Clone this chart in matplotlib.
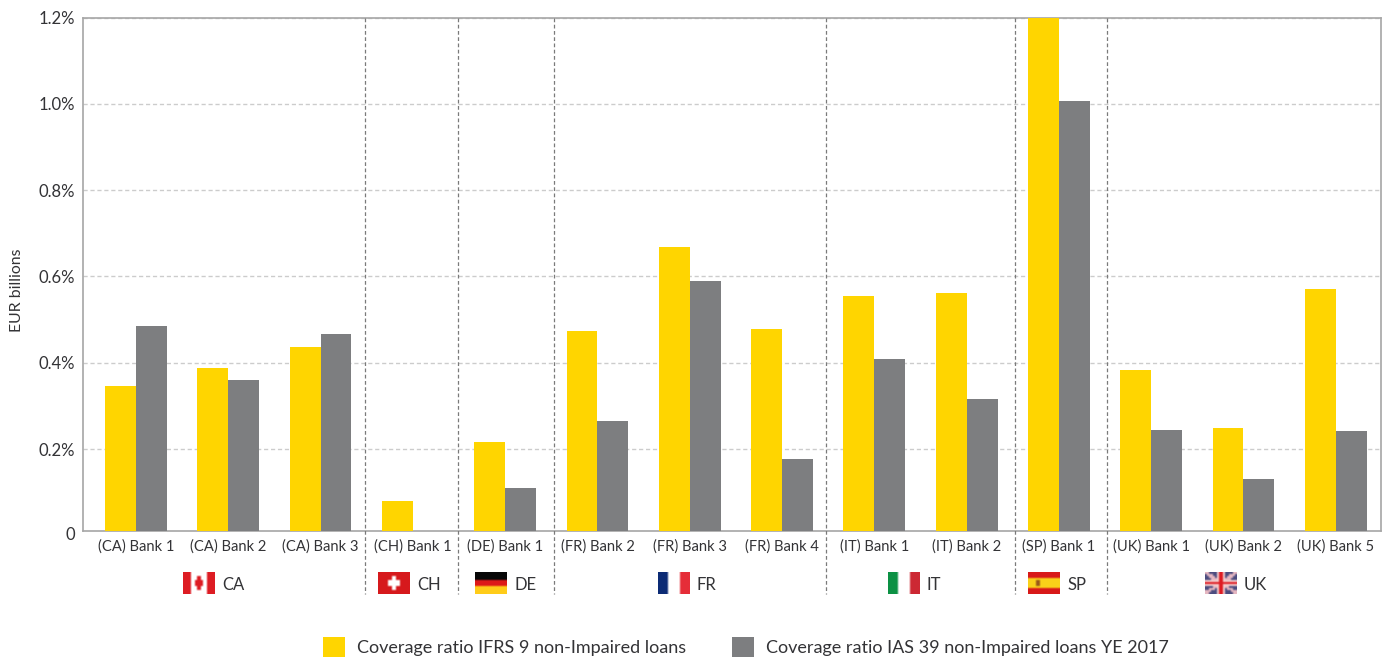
import numpy as np
import matplotlib
matplotlib.use("Agg")
import matplotlib.pyplot as plt

plt.rcParams['font.family'] = ['Lato', 'DejaVu Sans']

# values (percent)
banks = ["(CA) Bank 1", "(CA) Bank 2", "(CA) Bank 3", "(CH) Bank 1", "(DE) Bank 1",
         "(FR) Bank 2", "(FR) Bank 3", "(FR) Bank 4", "(IT) Bank 1", "(IT) Bank 2",
         "(SP) Bank 1", "(UK) Bank 1", "(UK) Bank 2", "(UK) Bank 5"]
ifrs9 = [0.346, 0.387, 0.436, 0.080, 0.216, 0.473, 0.668, 0.478, 0.554, 0.561,
         1.200, 0.383, 0.249, 0.570]
ias39 = [0.485, 0.360, 0.466, 0.005, 0.110, 0.265, 0.589, 0.177, 0.408, 0.316,
         1.007, 0.244, 0.131, 0.242]
separators = [2.48, 3.49, 4.53, 7.48, 9.52, 10.52]
countries = ["CA", "CH", "DE", "FR", "IT", "SP", "UK"]
flag_left_px = [183, 378, 475, 658, 888, 1028, 1205]
y_ticks = [0.2, 0.4, 0.6, 0.8, 1.0, 1.2]

W, H = 1392, 657
YELLOW = "#FFD500"
GREY = "#7D7E80"
TEXT = "#333336"


def px_box(x0, y0, x1, y1):
    # pixel box (top-left origin) to figure fractions
    return [x0 / W, 1 - y1 / H, (x1 - x0) / W, (y1 - y0) / H]


def flag_image(code):
    h, w = 11, 16
    img = np.ones((h, w, 3))
    red = (0.87, 0.11, 0.14)
    if code == "CA":
        img[:, :4] = red
        img[:, 12:] = red
        img[2:9, 7:9] = red
        img[4:7, 6:10] = red
    elif code == "CH":
        img[:] = (0.84, 0.10, 0.11)
        img[4:7, 5:11] = 1
        img[2:9, 7:9] = 1
    elif code == "DE":
        img[:4] = (0.03, 0.03, 0.03)
        img[4:7] = (0.87, 0.10, 0.10)
        img[7:] = (1.0, 0.80, 0.10)
    elif code == "FR":
        img[:, :5] = (0.05, 0.17, 0.46)
        img[:, 11:] = (0.90, 0.18, 0.22)
    elif code == "IT":
        img[:, :5] = (0.05, 0.57, 0.27)
        img[:, 11:] = (0.80, 0.16, 0.20)
    elif code == "SP":
        img[:] = (0.98, 0.82, 0.10)
        img[:3] = (0.85, 0.10, 0.10)
        img[8:] = (0.85, 0.10, 0.10)
        img[4:7, 4:6] = (0.60, 0.35, 0.10)
    elif code == "UK":
        img[:] = (0.30, 0.30, 0.50)
        for i in range(h):
            j = int(round(i * (w - 1) / (h - 1)))
            for k in (j - 1, j, j + 1):
                if 0 <= k < w:
                    img[i, k] = (0.90, 0.72, 0.76)
                    img[i, w - 1 - k] = (0.90, 0.72, 0.76)
        img[4:7, :] = (0.95, 0.80, 0.80)
        img[:, 6:10] = (0.95, 0.80, 0.80)
        img[5, :] = red
        img[:, 7:9] = red
    return img


fig = plt.figure(figsize=(W / 100, H / 100), dpi=100)
ax = fig.add_axes(px_box(83, 17.5, 1381, 531))

x = np.arange(len(banks))
bar_w = 0.335
b1 = ax.bar(x - bar_w / 2, ifrs9, bar_w, color=YELLOW, zorder=3,
            label="Coverage ratio IFRS 9 non-Impaired loans")
b2 = ax.bar(x + bar_w / 2, ias39, bar_w, color=GREY, zorder=3,
            label="Coverage ratio IAS 39 non-Impaired loans YE 2017")

ax.set_xlim(-0.574, 13.49)
ax.set_ylim(0.0102, 1.2)  # the zero label sits a little below the axis in the source

ax.set_yticks(y_ticks)
ax.set_yticklabels(["%.1f%%" % v for v in y_ticks], fontsize=12, color=TEXT)
ax.set_xticks(x)
ax.set_xticklabels(banks, fontsize=10.6, color=TEXT)
ax.tick_params(axis='both', length=0)
ax.tick_params(axis='y', pad=5.5)
ax.tick_params(axis='x', pad=6)
ax.yaxis.grid(True, linestyle=(0, (3, 2)), color="#cccccc", linewidth=1, zorder=0)
ax.set_axisbelow(True)
for s in ax.spines.values():
    s.set_color("#a6a6a6")
    s.set_linewidth(1.2)

fig.text(75 / W, 1 - 535 / H, "0", ha='right', va='center', fontsize=12, color=TEXT)
fig.text(17 / W, 1 - 290 / H, "EUR billions", rotation=90, ha='center', va='center',
         fontsize=11.4, color=TEXT)

# country separators run past the axis down to the flags
for sep in separators:
    ax.plot([sep, sep], [1.2, 1.2 - 577 / 432], transform=ax.transData, color="#7a7a7a",
            linestyle=(0, (3, 2)), linewidth=0.9, clip_on=False, zorder=4)

for code, left in zip(countries, flag_left_px):
    fax = fig.add_axes(px_box(left, 572, left + 32, 594))
    fax.imshow(flag_image(code), interpolation='bilinear', aspect='auto')
    fax.axis('off')
    fig.text((left + 39) / W, 1 - 585 / H, code, ha='left', va='center',
             fontsize=12, color=TEXT)

leg = fig.legend(handles=[b1, b2], loc='center', bbox_to_anchor=(746 / W, 1 - 647 / H),
                 ncol=2, frameon=False, fontsize=13, labelcolor=TEXT,
                 handlelength=1.22, handleheight=1.27, handletextpad=0.64,
                 columnspacing=2.55, borderpad=0, borderaxespad=0)

fig.savefig("out.png", dpi=100)
